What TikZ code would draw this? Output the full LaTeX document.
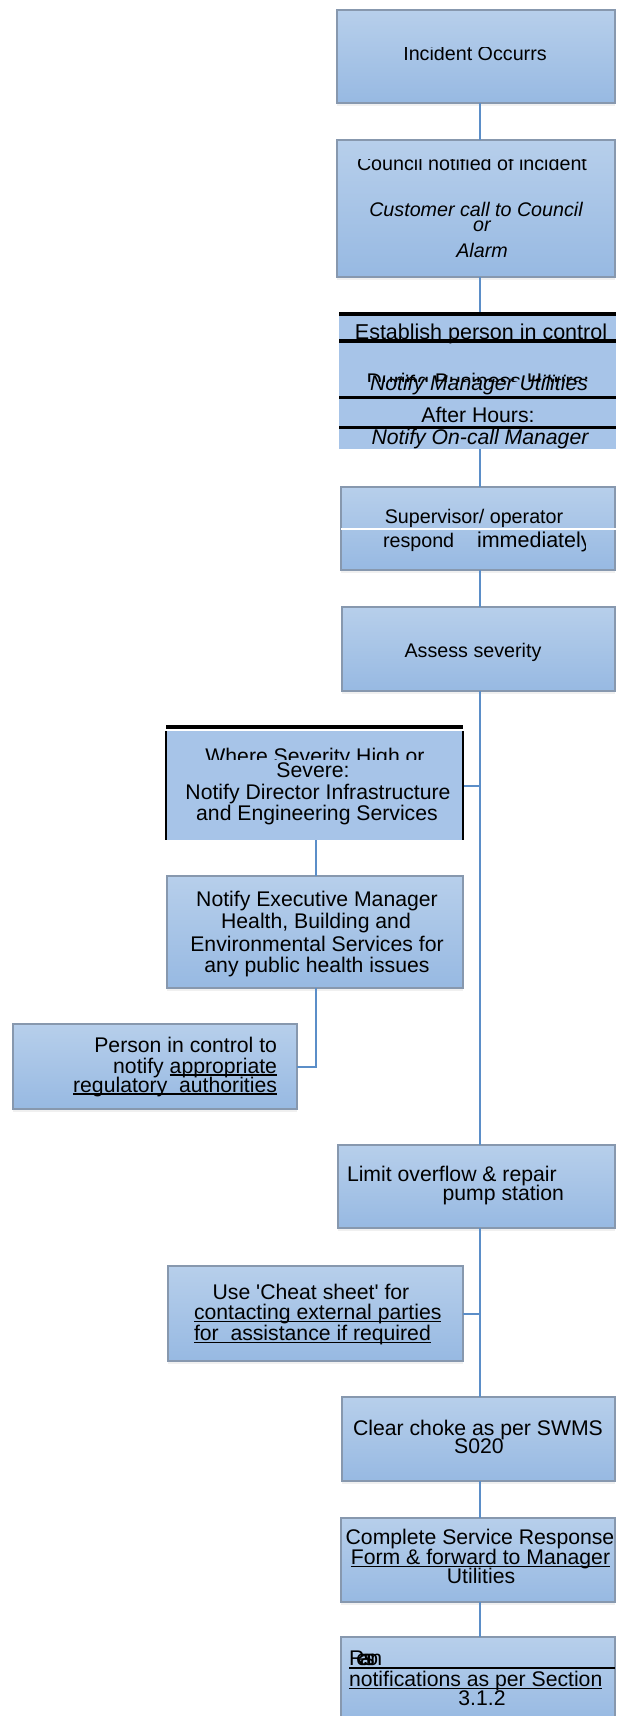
\documentclass[tikz,border=0pt]{standalone}
\usepackage{fontspec}
\setmainfont{Liberation Sans}
\usetikzlibrary{calc,shadows}
\definecolor{boxtop}{HTML}{B7CFEB}
\definecolor{boxbot}{HTML}{97B9E2}
\definecolor{boxline}{HTML}{8798AE}
\definecolor{flatfill}{HTML}{A7C4E8}
\definecolor{connc}{HTML}{5B8EC8}
\newcommand\smallfs{\fontsize{19.7}{21}\selectfont}
\newcommand\largefs{\fontsize{21.2}{22}\selectfont}
\begin{document}
\begin{tikzpicture}[x=1pt,y=-1pt,
  gbox/.style={draw=boxline, line width=1.3pt, top color=boxtop, bottom color=boxbot,
    inner sep=0pt, outer sep=0pt, rectangle,
    drop shadow={shadow xshift=0pt, shadow yshift=-2.5pt, opacity=0.12}},
  fbox/.style={fill=flatfill, inner sep=0pt, outer sep=0pt, rectangle},
  conn/.style={draw=connc, line width=2pt},
  ts/.style={inner sep=0pt, outer sep=0pt, anchor=base, font=\smallfs},
  tl/.style={inner sep=0pt, outer sep=0pt, anchor=base, font=\largefs},
  ul/.style={line width=1.6pt, black},
  blkline/.style={black}
]
\useasboundingbox (0,0) rectangle (616,1716);
\coordinate (spine) at (480,0);
\coordinate (branch) at (316,0);

% ---------- boxes ----------
\node[gbox, minimum width=278pt, minimum height=93pt]  (b1)  at (476,56.5) {};
\node[gbox, minimum width=278pt, minimum height=137pt] (b2)  at (476,208.5) {};
\node[fbox, minimum width=277pt, minimum height=135pt] (b3)  at (477.5,381.5) {};
\node[gbox, minimum width=274pt, minimum height=83pt]  (b4)  at (478,528.5) {};
\node[gbox, minimum width=273pt, minimum height=84pt]  (b5)  at (478.5,649) {};
\node[fbox, minimum width=297pt, minimum height=109pt] (b6)  at (314.5,785.5) {};
\node[gbox, minimum width=296pt, minimum height=112pt] (b7)  at (315,932) {};
\node[gbox, minimum width=284pt, minimum height=85pt]  (b8)  at (155,1066.5) {};
\node[gbox, minimum width=277pt, minimum height=83pt]  (b9)  at (476.5,1186.5) {};
\node[gbox, minimum width=295pt, minimum height=95pt]  (b10) at (315.5,1313.5) {};
\node[gbox, minimum width=273pt, minimum height=84pt]  (b11) at (478.5,1439) {};
\node[gbox, minimum width=274pt, minimum height=84pt]  (b12) at (478,1560) {};
\node[gbox, minimum width=274pt, minimum height=86pt]  (b13) at (478,1680) {};

% ---------- connectors ----------
\draw[conn] (b1.south -| spine) -- (b2.north -| spine);
\draw[conn] (b2.south -| spine) -- (b3.north -| spine);
\draw[conn] (b3.south -| spine) -- (b4.north -| spine);
\draw[conn] (b4.south -| spine) -- (b5.north -| spine);
\draw[conn] (b5.south -| spine) -- (b9.north -| spine);
\draw[conn] (b9.south -| spine) -- (b11.north -| spine);
\draw[conn] (b11.south -| spine) -- (b12.north -| spine);
\draw[conn] (b12.south -| spine) -- (b13.north -| spine);
\draw[conn] (b6.east) -- (b6.east -| spine);
\draw[conn] (b6.south -| branch) -- (b7.north -| branch);
\draw[conn] (b7.south -| branch) |- (b8.east);
\draw[conn] (b10.east) -- (b10.east -| spine);

% ---------- box 1 ----------
\begin{scope}
\clip (300,47.5) rectangle (616,80);
\node[ts] (t1) at (475,60) {Incident Occurrs};
\end{scope}

% ---------- box 2 ----------
\begin{scope}
\clip (340,159.5) rectangle (616,180);
\node[ts] (t2a) at (472,170) {Council notified of incident};
\end{scope}
\node[ts, font=\smallfs\itshape] (t2b) at (476,216) {Customer call to Council};
\node[ts, font=\smallfs\itshape] (t2c) at (482,231) {or};
\node[ts, font=\smallfs\itshape] (t2d) at (482,257) {Alarm};

% ---------- box 3 ----------
\node[tl, font=\fontsize{21.5}{22}\selectfont] (t3a) at (481,339) {Establish person in control};
\begin{scope}
\clip (340,360) rectangle (616,381);
\node[tl] (t3b) at (478,388) {During Business Hours:};
\end{scope}
\node[tl, font=\largefs\itshape] (t3c) at (479,390) {Notify Manager Utilities};
\node[tl] (t3d) at (478,422) {After Hours:};
\node[tl, font=\largefs\itshape] (t3e) at (480,444) {Notify On-call Manager};
\draw[blkline, line width=4pt] (339,314) -- (616,314);
\draw[blkline, line width=4pt] (339,340.5) -- (616,340.5);
\draw[blkline, line width=3pt] (339,397) -- (616,397);
\draw[blkline, line width=3pt] (339,427) -- (616,427);

% ---------- box 4 ----------
\node[ts] (t4a) at (474,523) {Supervisor/ operator};
\draw[white, line width=2pt] (b4.west |- 0,529) -- (616,529);
\node[ts, anchor=base west] (t4b) at (383,547) {respond};
\begin{scope}
\clip (470,530) rectangle (585,560);
\node[ts, anchor=base west, font=\fontsize{21.5}{22}\selectfont] (t4c) at (477,547) {immediately};
\end{scope}

% ---------- box 5 ----------
\node[ts] (t5) at (473,657) {Assess severity};

% ---------- box 6 ----------
\draw[blkline, line width=3.5pt] (166,727) -- (463,727);
\draw[blkline, line width=1.2pt] (b6.north west) -- (b6.south west);
\draw[blkline, line width=1.2pt] (b6.north east) -- (b6.south east);
\begin{scope}
\clip (170,740) rectangle (460,759);
\node[tl] (t6a) at (315,763) {Where Severity High or};
\end{scope}
\node[tl] (t6b) at (313,777) {Severe:};
\node[tl] (t6c) at (318,799) {Notify Director Infrastructure};
\node[tl] (t6d) at (317,820) {and Engineering Services};

% ---------- box 7 ----------
\node[tl] (t7a) at (317,906) {Notify Executive Manager};
\node[tl] (t7b) at (316,928) {Health, Building and};
\node[tl] (t7c) at (317,951) {Environmental Services for};
\node[tl] (t7d) at (317,972) {any public health issues};

% ---------- box 8 ----------
\node[tl, anchor=base east] (t8a) at (277,1052) {Person in control to};
\node[tl, anchor=base east] (t8c) at (277,1073) {appropriate};
\node[tl, anchor=base east] (t8b) at ([xshift=-5.9pt]t8c.base west) {notify};
\node[tl, anchor=base east] (t8d) at (277,1092) {regulatory\ \ authorities};
\draw[ul] ([yshift=-2pt]t8c.base west) -- ([yshift=-2pt]t8c.base east);
\draw[ul] ([yshift=-2.2pt]t8d.base west) -- ([yshift=-2.2pt]t8d.base east);

% ---------- box 9 ----------
\node[tl, anchor=base west] (t9a) at (347,1181) {Limit overflow \& repair};
\node[tl, anchor=base east] (t9b) at (564,1200) {pump station};

% ---------- box 10 ----------
\node[tl] (t10a) at (311,1299) {Use \textquotesingle Cheat sheet\textquotesingle\ for};
\node[tl, anchor=base west] (t10b) at (194,1319) {contacting external parties};
\node[tl, anchor=base west] (t10c) at (194,1340) {for\ \ assistance if required};
\draw[ul] ([yshift=-2.5pt]t10b.base west) -- ([yshift=-2.5pt]t10b.base east);
\draw[ul] ([yshift=-2.5pt]t10c.base west) -- ([yshift=-2.5pt]t10c.base east);

% ---------- box 11 ----------
\node[tl] (t11a) at (478,1435) {Clear choke as per SWMS};
\node[tl] (t11b) at (479,1453) {S020};

% ---------- box 12 ----------
\node[tl] (t12a) at (480,1544) {Complete Service Response};
\node[tl] (t12b) at (480.5,1564) {Form \& forward to Manager};
\draw[ul] ([yshift=-2.5pt]t12b.base west) -- ([yshift=-2.5pt]t12b.base east);
\node[tl] (t12c) at (481,1583) {Utilities};

% ---------- box 13 ----------
\node[tl, anchor=base west] (t13a) at (349,1665) {R\kern-8pt e\kern-8pt a\kern-8pt s\kern-8pt o\kern-8pt n};
\coordinate (u13) at ([yshift=-3pt]t13a.base west);
\draw[ul] (u13) -- (u13 -| b13.east);
\node[tl, anchor=base west] (t13b) at (349,1686) {notifications as per Section};
\draw[ul] ([yshift=-2.5pt]t13b.base west) -- ([yshift=-2.5pt]t13b.base east);
\node[tl] (t13c) at (482,1705) {3.1.2};
\end{tikzpicture}
\end{document}
